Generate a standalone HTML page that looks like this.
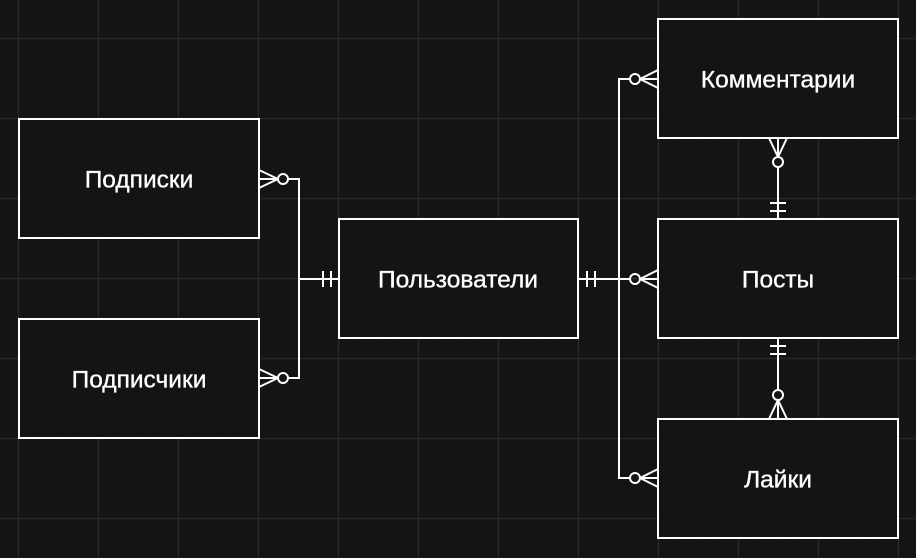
<!DOCTYPE html>
<html><head><meta charset="utf-8"><style>
html,body{margin:0;padding:0;background:#141414;}
svg{display:block}
text{font-family:"Liberation Sans",Arial,sans-serif;font-size:24.5px;fill:#fff;text-anchor:middle;dominant-baseline:central;stroke:#fff;stroke-width:0.35px}
</style></head><body>
<svg width="916" height="558" xmlns="http://www.w3.org/2000/svg">
<defs>
<pattern id="minor" width="20" height="20" patternUnits="userSpaceOnUse" x="-2" y="-2">
<path d="M20 0V20M0 20H20" stroke="#1d1d1d" stroke-width="1" fill="none"/>
</pattern>
<pattern id="major" width="80" height="80" patternUnits="userSpaceOnUse" x="18" y="38">
<path d="M0.5 0V80M0 0.5H80" stroke="#282828" stroke-width="1.5" fill="none"/>
</pattern>
</defs>
<rect width="916" height="558" fill="#141414"/>
<rect width="916" height="558" fill="url(#minor)"/>
<rect width="916" height="558" fill="url(#major)"/>
<g fill="#141414" stroke="#fff" stroke-width="2">
<rect x="19" y="119" width="240" height="119"/>
<rect x="19" y="319" width="240" height="119"/>
<rect x="339" y="219" width="239" height="119"/>
<rect x="658" y="19" width="240" height="119"/>
<rect x="658" y="219" width="240" height="119"/>
<rect x="658" y="419" width="240" height="119"/>
</g>
<g fill="none" stroke="#fff" stroke-width="2">
<path d="M288 179H299V378H288M299 279H339M323 271V287M331 271V287"/>
<circle cx="283" cy="179" r="5"/><circle cx="283" cy="378" r="5"/>
<path d="M278 179L259 170M278 179L259 188M278 179H259"/>
<path d="M278 378L259 369M278 378L259 387M278 378H259"/>
<path d="M630 79H619V478H630M578 279H630M587 271V287M595 271V287"/>
<circle cx="635" cy="79" r="5"/><circle cx="635" cy="279" r="5"/><circle cx="635" cy="478" r="5"/>
<path d="M640 79L658 70M640 79L658 88M640 79H658"/>
<path d="M640 279L658 270M640 279L658 288M640 279H658"/>
<path d="M640 478L658 469M640 478L658 487M640 478H658"/>
<path d="M778 167V219M770 203H786M770 211H786"/>
<circle cx="778" cy="162" r="5"/>
<path d="M778 157L769 138M778 157L787 138M778 157V138"/>
<path d="M778 338V390M770 346H786M770 354H786"/>
<circle cx="778" cy="395" r="5"/>
<path d="M778 400L769 419M778 400L787 419M778 400V419"/>
</g>
<text x="139" y="180">Подписки</text>
<text x="139" y="380">Подписчики</text>
<text x="458" y="280">Пользователи</text>
<text x="778" y="80">Комментарии</text>
<text x="778" y="280">Посты</text>
<text x="778" y="480">Лайки</text>
</svg>
</body></html>
